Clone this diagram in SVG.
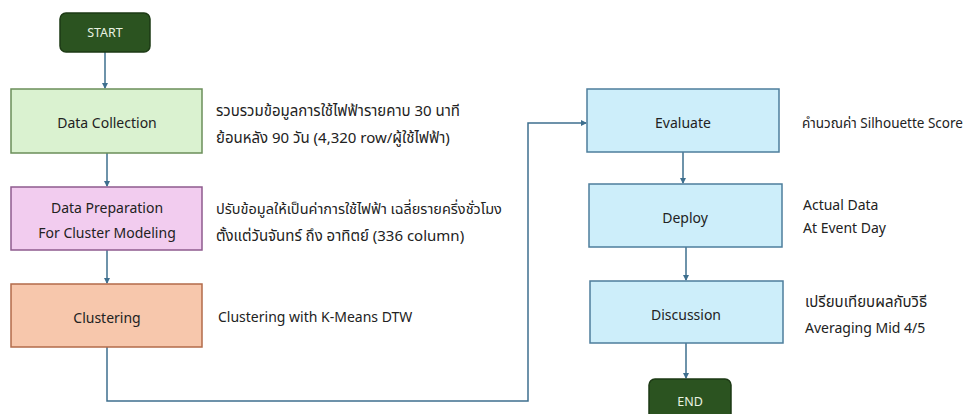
<svg xmlns="http://www.w3.org/2000/svg" width="966" height="414" viewBox="0 0 966 414">
<defs>
<marker id="ah" markerWidth="6" markerHeight="6" refX="5" refY="3" orient="auto" markerUnits="userSpaceOnUse">
<path d="M0,0 L6,3 L0,6 z" fill="#3e6f8e"/>
</marker>
<style>
.t{font-family:"Noto Sans","Noto Sans Thai",Tahoma,sans-serif;font-size:14px;fill:#222;}
.th{font-size:15px;}
.c{text-anchor:middle;}
.term{fill:#2b5320;stroke:#1d3a15;stroke-width:1.5;}
.tt{font-family:"Noto Sans",sans-serif;font-size:12.5px;fill:#e8f2e0;text-anchor:middle;}
.blue{fill:#cdeefa;stroke:#4d7e9c;stroke-width:1.5;}
.conn{fill:none;stroke:#3e6f8e;stroke-width:1.5;marker-end:url(#ah);}
</style>
</defs>
<g id="connectors">
<path class="conn" d="M105,52 V88"/>
<path class="conn" d="M107,153 V186"/>
<path class="conn" d="M107,250 V283"/>
<path class="conn" d="M107,347 V401 H528 V123 H586"/>
<path class="conn" d="M683,152 V183"/>
<path class="conn" d="M686,247 V280"/>
<path class="conn" d="M686,343 V378"/>
</g>
<g id="start">
<rect class="term" x="60" y="13" width="90" height="39" rx="6"/>
<text class="tt" x="105" y="37">START</text>
</g>
<g id="data-collection">
<rect x="11" y="89" width="191" height="64" fill="#daf2d0" stroke="#6b8e5a" stroke-width="1.5"/>
<text class="t c" x="107" y="128">Data Collection</text>
</g>
<g id="data-collection-note">
<text class="t th" x="216" y="116">รวบรวมข้อมูลการใช้ไฟฟ้ารายคาบ 30 นาที</text>
<text class="t th" x="216" y="143">ย้อนหลัง 90 วัน (4,320 row/ผู้ใช้ไฟฟ้า)</text>
</g>
<g id="data-preparation">
<rect x="11" y="187" width="191" height="63" fill="#f2ccef" stroke="#8e5b8e" stroke-width="1.5"/>
<text class="t c" x="107" y="213">Data Preparation</text>
<text class="t c" x="107" y="238">For Cluster Modeling</text>
</g>
<g id="data-preparation-note">
<text class="t" style="font-size:14.5px" x="216" y="214">ปรับข้อมูลให้เป็นค่าการใช้ไฟฟ้า เฉลี่ยรายครึ่งชั่วโมง</text>
<text class="t th" x="216" y="241">ตั้งแต่วันจันทร์ ถึง อาทิตย์ (336 column)</text>
</g>
<g id="clustering">
<rect x="11" y="284" width="191" height="63" fill="#f7c7ac" stroke="#b36b4a" stroke-width="1.5"/>
<text class="t c" x="107" y="323">Clustering</text>
</g>
<g id="clustering-note">
<text class="t" x="218" y="322">Clustering with K-Means DTW</text>
</g>
<g id="evaluate">
<rect class="blue" x="587" y="89" width="192" height="63"/>
<text class="t c" x="683" y="128">Evaluate</text>
</g>
<g id="evaluate-note">
<text class="t" style="font-size:13.5px" x="802" y="128">คำนวณค่า Silhouette Score</text>
</g>
<g id="deploy">
<rect class="blue" x="589" y="184" width="193" height="63"/>
<text class="t c" x="685" y="223">Deploy</text>
</g>
<g id="deploy-note">
<text class="t" x="803" y="210">Actual Data</text>
<text class="t" x="803" y="233">At Event Day</text>
</g>
<g id="discussion">
<rect class="blue" x="590" y="281" width="193" height="62"/>
<text class="t c" x="686" y="320">Discussion</text>
</g>
<g id="discussion-note">
<text class="t th" x="805" y="307">เปรียบเทียบผลกับวิธี</text>
<text class="t" x="805" y="333">Averaging Mid 4/5</text>
</g>
<g id="end">
<rect class="term" x="649" y="379" width="82" height="42" rx="6"/>
<text class="tt" x="690" y="406">END</text>
</g>
</svg>
